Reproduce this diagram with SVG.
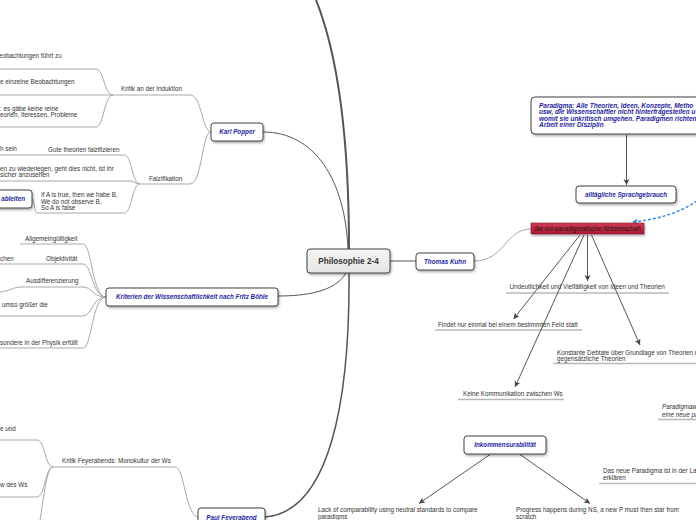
<svg xmlns="http://www.w3.org/2000/svg" width="696" height="520" viewBox="0 0 696 520">
<defs>
<filter id="sh" x="-10%" y="-30%" width="120%" height="170%"><feDropShadow dx="1" dy="1.5" stdDeviation="0.8" flood-color="#000" flood-opacity="0.35"/></filter>
<linearGradient id="gc" x1="0" y1="0" x2="0" y2="1"><stop offset="0" stop-color="#f6f6f6"/><stop offset="1" stop-color="#e4e4e4"/></linearGradient>
<linearGradient id="gr" x1="0" y1="0" x2="0" y2="1"><stop offset="0" stop-color="#d23a55"/><stop offset="1" stop-color="#a8192f"/></linearGradient>
<marker id="arr" markerUnits="userSpaceOnUse" markerWidth="8" markerHeight="8" refX="6" refY="3" orient="auto"><path d="M0,0 L6,3 L0,6 L1.5,3 z" fill="#444"/></marker>
<marker id="arrb" markerUnits="userSpaceOnUse" markerWidth="8" markerHeight="8" refX="6" refY="3" orient="auto"><path d="M0,0 L6,3 L0,6 L1.5,3 z" fill="#3d8ad6"/></marker>
</defs>
<style>
.t{font-family:"Liberation Sans",Arial,sans-serif;font-size:6.3px;fill:#333}
.ti{font-family:"Liberation Sans",Arial,sans-serif;font-size:6.3px;fill:#333;font-style:italic}
.n{font-family:"Liberation Sans",Arial,sans-serif;font-size:6.3px;fill:#1f1fa0;font-weight:bold;font-style:italic}
.box{fill:#fff;stroke:#444;stroke-width:1;filter:url(#sh)}
.main{fill:none;stroke:#555;stroke-width:1}
.thick{fill:none;stroke:#555;stroke-width:2}
.br{fill:none;stroke:#a8a8a8;stroke-width:1}
.ul{fill:none;stroke:#b8b8b8;stroke-width:1.4}
.ar{fill:none;stroke:#555;stroke-width:1;marker-end:url(#arr)}
</style>
<g id="connectors">
<path class="thick" d="M349,249 C349,150 340,60 316,0"/>
<path class="main" d="M263,132 C315,132 345,180 348,249"/>
<path class="main" d="M346,273 C335,292 305,296 278,296"/>
<path class="main" d="M390,261 L416,261"/>
<path class="thick" style="stroke-width:1.5" d="M349,273 C350,400 330,512 265,517"/>
<path class="br" d="M474,261 C505,261 505,229 531,229"/>
<path class="br" d="M113,95 L190,95 C202,95 202,132 211,132"/>
<path class="br" d="M113,95 C104,95 104,69 96,69 L0,69"/>
<path class="br" d="M113,95 L0,95"/>
<path class="br" d="M113,95 C104,95 104,127 96,127 L0,127"/>
<path class="br" d="M140,184 L190,184 C202,184 202,132 211,132"/>
<path class="br" d="M140,184 C132,184 132,155 124,155 L0,155"/>
<path class="br" d="M140,184 C135,184 135,181 130,181 L0,181"/>
<path class="br" d="M140,184 C132,184 132,213 124,213 L37,213"/>
<path class="br" d="M32,199 C35,199 34,213 37,213"/>
<path class="br" d="M106,297 C92,297 92,244 83,244 L20,244"/>
<path class="br" d="M106,297 C92,297 92,264 83,264 L0,264"/>
<path class="br" d="M106,297 C92,297 92,287 83,287 L20,287 C14,287 10,291 0,292"/>
<path class="br" d="M106,297 C92,297 92,316 83,316 L0,316"/>
<path class="br" d="M106,297 C92,297 92,348 83,348 L0,348"/>
<path class="br" d="M199,517 C185,517 185,467 175,467 L53,467"/>
<path class="br" d="M53,467 C45,467 45,440 37,440 L0,440"/>
<path class="br" d="M53,467 C45,467 45,497 37,497 L0,497"/>
<path class="br" d="M53,467 C46,467 43,505 40,520"/>
<path class="ul" d="M506,293 L669,293"/>
<path class="ul" d="M435,330 L582,330"/>
<path class="ul" d="M553,363.5 L696,363.5"/>
<path class="ul" d="M458,399.5 L564,399.5"/>
<path class="ul" d="M658,419.5 L696,419.5"/>
<path class="ul" d="M599,483.5 L696,483.5"/>
<path class="ar" d="M626.5,135 L626.5,185"/>
<path class="ar" d="M587.5,235 L587.5,281"/>
<path class="ar" d="M580,235 L513.5,319"/>
<path class="ar" d="M591.5,235 L640,345"/>
<path class="ar" d="M584,235 L515,387"/>
<path class="ar" d="M490,454.5 L419,503.5"/>
<path class="ar" d="M520,454.5 L590,503.5"/>
<path fill="none" stroke="#3d8ad6" stroke-width="1.5" stroke-dasharray="3,2" marker-end="url(#arrb)" d="M697,201 Q672,218 632,222"/>
</g>
<g id="central"><rect x="307" y="249" width="83" height="24" rx="3" fill="url(#gc)" stroke="#444" stroke-width="1" filter="url(#sh)"/><text x="348.5" y="264" text-anchor="middle" style="font-family:'Liberation Sans',Arial,sans-serif;font-size:8.2px;font-weight:bold;fill:#333">Philosophie 2-4</text></g>
<g id="karl-popper"><rect class="box" x="211" y="123" width="52" height="18" rx="3"/><text class="n" x="237" y="134.2" text-anchor="middle">Karl Popper</text></g>
<g id="kritik-induktion"><text class="t" x="121" y="91">Kritik an der Induktion</text></g>
<g id="k1"><text class="t" x="-1" y="58">eobachtungen führt zu</text></g>
<g id="k2"><text class="t" x="0" y="84">e einzelne Beobachtungen</text></g>
<g id="k3"><text class="t" x="0" y="110.5">: es gäbe keine reine</text><text class="t" x="0" y="117">eorien, Iteressen, Probleme</text></g>
<g id="falzifikation"><text class="t" x="149" y="181">Falzifikation</text></g>
<g id="f1"><text class="t" x="48" y="152">Gute theorien falzifizieren</text><text class="t" x="0" y="151">h sein</text></g>
<g id="f2"><text class="t" x="0" y="171">en zu wiederlegen, geht dies nicht, ist ihr</text><text class="t" x="0" y="177">sicher anzusehen</text></g>
<g id="f3"><text class="t" x="41" y="197">If A is true, then we habe B,</text><text class="t" x="41" y="203.5">We do not observe B,</text><text class="t" x="41" y="210">So A is false</text></g>
<g id="ableiten"><rect class="box" x="-30" y="190" width="62" height="18" rx="3"/><text class="n" x="25" y="201.2" text-anchor="end">ableiten</text></g>
<g id="kriterien"><rect class="box" x="106" y="288" width="172" height="18" rx="3"/><text class="n" x="192" y="299.2" text-anchor="middle">Kriterien der Wissenschaftlichkeit nach Fritz Böhle</text></g>
<g id="c1"><text class="t" x="25" y="241">Allgemeingültigkeit</text></g>
<g id="c2"><text class="t" x="46" y="260.5">Objektivität</text><text class="t" x="0" y="260.5">chen</text></g>
<g id="c3"><text class="t" x="26" y="283">Ausdifferenzierung</text></g>
<g id="c4"><text class="t" x="2" y="306.5">umso größer die</text></g>
<g id="c5"><text class="t" x="0" y="344.5">sondere in der Physik erfüllt</text></g>
<g id="paul-feyerabend"><rect class="box" x="198" y="508" width="67" height="20" rx="3"/><text class="n" x="231.5" y="519.5" text-anchor="middle">Paul Feyerabend</text></g>
<g id="monokultur"><text class="t" x="62" y="463">Kritik Feyerabends: Monokultur der Ws</text></g>
<g id="m1"><text class="t" x="0" y="430.5">e und</text></g>
<g id="m2"><text class="t" x="0" y="487">w des Ws</text></g>
<g id="thomas-kuhn"><rect class="box" x="416" y="253" width="58" height="17" rx="3"/><text class="n" x="445" y="264" text-anchor="middle">Thomas Kuhn</text></g>
<g id="paradigma"><rect class="box" x="531" y="97" width="200" height="37" rx="4"/><text class="n" x="539" y="107.5" style="font-size:6.5px">Paradigma: Alle Theorien, Ideen, Konzepte, Metho</text><text class="n" x="539" y="114" style="font-size:6.5px">usw, die Wissenschaftler nicht hinterfragestellen u</text><text class="n" x="539" y="120.5" style="font-size:6.5px">womit sie unkritisch umgehen. Paradigmen richten</text><text class="n" x="539" y="127" style="font-size:6.5px">Arbeit einer Disziplin</text></g>
<g id="alltaeglich"><rect class="box" x="576" y="186" width="100" height="17" rx="3"/><text class="n" x="626" y="196.8" text-anchor="middle">alltägliche Sprachgebrauch</text></g>
<g id="vor-paradigmatisch"><rect x="531" y="223" width="113" height="11" fill="url(#gr)" stroke="#8a1428" stroke-width="0.6" filter="url(#sh)"/><text class="t" x="587.5" y="230.8" text-anchor="middle" style="fill:#1a1a1a">die vor-paradigmatische Wissenschaft</text></g>
<g id="v1"><text class="t" x="509.5" y="289">Undeutlichkeit und Vielfältigkeit von Ideen und Theorien</text></g>
<g id="v2"><text class="t" x="438" y="327">Findet nur einmal bei einem bestimmten Feld statt</text></g>
<g id="v3"><text class="t" x="557" y="354.5">Konstante Debtate über Grundlage von Theorien u</text><text class="t" x="557" y="361">gegensätzliche Theorien</text></g>
<g id="v4"><text class="t" x="463" y="396">Keine Kommunikation zwischen Ws</text></g>
<g id="paradigmaw"><text class="ti" x="662" y="409">Paradigmaw</text><text class="ti" x="662" y="416.5">eine neue pa</text></g>
<g id="neues-paradigma"><text class="t" x="603" y="473">Das neue Paradigma ist in der Lag</text><text class="t" x="603" y="480">erklären</text></g>
<g id="inkommensurabilitaet"><rect class="box" x="464" y="436" width="82" height="18" rx="3"/><text class="n" x="505" y="447.2" text-anchor="middle">Inkommensurabilität</text></g>
<g id="i1"><text class="t" x="318" y="512">Lack of comparability using neutral standards to compare</text><text class="t" x="318" y="518.5">paradigms</text></g>
<g id="i2"><text class="t" x="516" y="512">Progress happens during NS, a new P must then star from</text><text class="t" x="516" y="518.5">scratch</text></g>
</svg>
